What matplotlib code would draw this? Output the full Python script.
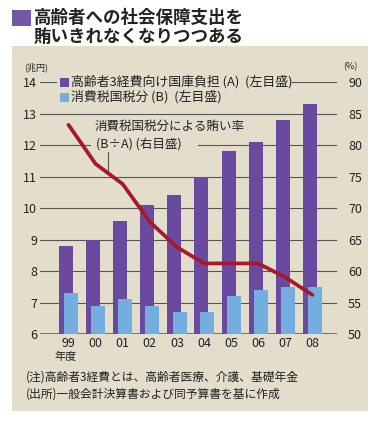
import matplotlib.pyplot as plt
from matplotlib.patches import Rectangle

plt.rcParams['font.family'] = ['Noto Sans CJK JP', 'DejaVu Sans']

years = ['99', '00', '01', '02', '03', '04', '05', '06', '07', '08']
burden_a = [8.8, 9.0, 9.6, 10.1, 10.4, 11.0, 11.8, 12.1, 12.8, 13.3]
tax_b = [7.3, 6.9, 7.1, 6.9, 6.7, 6.7, 7.2, 7.4, 7.5, 7.5]
ratio = [83.2, 77.0, 73.8, 67.8, 63.8, 61.2, 61.2, 61.2, 59.0, 56.2]
left_ticks = [6, 7, 8, 9, 10, 11, 12, 13, 14]
right_ticks = [50, 55, 60, 65, 70, 75, 80, 85, 90]

W, H = 380, 423
BG = '#e3ddcc'
PURPLE = '#6a4a9e'
BLUE = '#74aee0'
RED = '#a8182a'
GRID = '#555555'
TXT = '#222222'


def fx(px):
    return px / W


def fy(py):
    return 1 - py / H


def rect(x0, y0, x1, y1, color, z=0):
    fig.add_artist(Rectangle((fx(x0), fy(y1)), fx(x1) - fx(x0), fy(y0) - fy(y1),
                             transform=fig.transFigure, facecolor=color,
                             edgecolor='none', zorder=z))


fig = plt.figure(figsize=(W / 100, H / 100), dpi=100)
fig.patch.set_facecolor('white')

# beige panel
rect(12, 46, 368, 411, BG, 0)

# title
rect(12, 10, 31, 26, '#7458a8', 1)
fig.text(fx(34), fy(18), '高齢者への社会保障支出を', fontsize=12.6, fontweight='bold',
         color=TXT, va='center', ha='left')
fig.text(fx(34), fy(37), '賄いきれなくなりつつある', fontsize=12.6, fontweight='bold',
         color=TXT, va='center', ha='left')

ax_l, ax_r, ax_b, ax_t = 40, 337, 334, 82
ax = fig.add_axes([fx(ax_l), fy(ax_b), fx(ax_r) - fx(ax_l), fy(ax_t) - fy(ax_b)])
ax.set_facecolor('none')
ax2 = ax.twinx()

step = 27.1
c0 = 68.5
ax.set_xlim((ax_l - c0) / step, (ax_r - c0) / step)

for a in (ax, ax2):
    for s in a.spines.values():
        s.set_visible(False)
    a.tick_params(length=0)

for v in left_ticks:
    ax.axhline(v, color=GRID, lw=0.8 if v > 6 else 1.1, zorder=1)

xs = list(range(len(years)))
bw = 14 / step
off = 2.6 / step
ax.bar([x - off for x in xs], burden_a, width=bw, color=PURPLE, zorder=2)
ax.bar([x + off for x in xs], tax_b, width=bw, color=BLUE, zorder=3)
ax.set_ylim(6, 14)
ax2.set_ylim(50, 90)

ax2.plot(xs, ratio, color=RED, lw=2.7, solid_joinstyle='round', solid_capstyle='round', zorder=5)

ax.set_yticks(left_ticks)
ax.set_yticklabels([str(v) for v in left_ticks], fontsize=9, color=TXT)
ax.tick_params(axis='y', pad=2)
ax2.set_yticks(right_ticks)
ax2.set_yticklabels([str(v) for v in right_ticks], fontsize=9, color=TXT)
ax2.tick_params(axis='y', pad=8)
ax.set_xticks(xs)
ax.set_xticklabels(years, fontsize=9, color=TXT)
ax.tick_params(axis='x', pad=2)

fig.text(fx(24), fy(67), '(兆円)', fontsize=6.5, color=TXT, va='center', ha='left')
fig.text(fx(358), fy(67), '(%)', fontsize=6.5, color=TXT, va='center', ha='right')
fig.text(fx(66), fy(357), '年度', fontsize=8, color=TXT, va='center', ha='center')

# legend (masks the 14 gridline)
rect(57, 76, 292, 88, BG, 4)
rect(60, 78, 69, 87, PURPLE, 5)
fig.text(fx(71), fy(82), '高齢者3経費向け国庫負担 (A)  (左目盛)', fontsize=9.3, color=TXT,
         va='center', ha='left', zorder=6)
rect(60, 93, 69, 102, BLUE, 5)
fig.text(fx(71), fy(97), '消費税国税分 (B)  (左目盛)', fontsize=9.3, color=TXT,
         va='center', ha='left', zorder=6)

# annotation for the ratio line
rect(91, 137, 198, 151, BG, 4)
fig.text(fx(95), fy(126), '消費税国税分による賄い率', fontsize=9, color=TXT,
         va='center', ha='left', zorder=6)
fig.text(fx(96), fy(144), '(B÷A) (右目盛)', fontsize=9, color=TXT,
         va='center', ha='left', zorder=6)
fig.add_artist(plt.Line2D([fx(108), fx(108)], [fy(152), fy(171)], transform=fig.transFigure,
                          color=GRID, lw=0.8, zorder=6))

# notes
fig.text(fx(26), fy(377), '(注)高齢者3経費とは、高齢者医療、介護、基礎年金', fontsize=8.5,
         color=TXT, va='center', ha='left')
fig.text(fx(26), fy(394), '(出所)一般会計決算書および同予算書を基に作成', fontsize=8.5,
         color=TXT, va='center', ha='left')

fig.savefig('out.png', dpi=100, facecolor='white')
